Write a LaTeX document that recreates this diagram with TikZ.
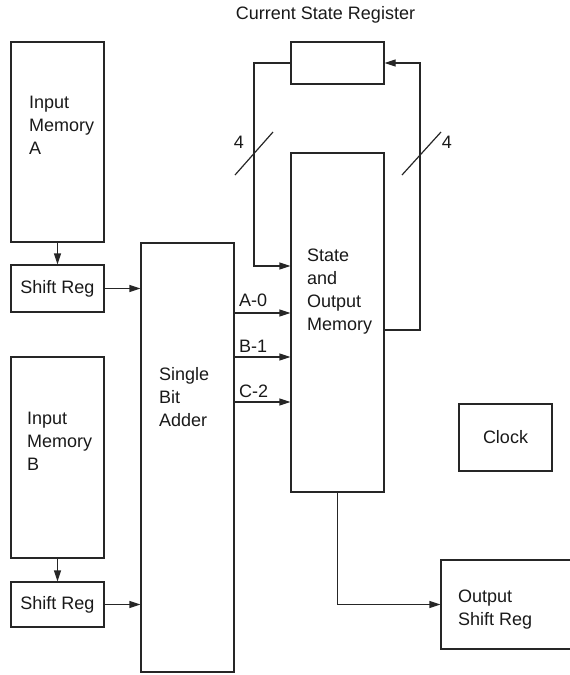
\documentclass[tikz,border=0pt]{standalone}
\usepackage{fontspec}
\setmainfont{Liberation Sans}
\usetikzlibrary{arrows.meta,calc}
\begin{document}
\begin{tikzpicture}[x=1pt,y=-1pt,
  box/.style={draw=black!85,line width=1.2pt,inner sep=0pt,minimum width=93pt},
  txt/.style={inner sep=0pt,align=left,font=\fontsize{18}{23}\selectfont,text=black!90},
  arr/.style={draw=black!85,line width=1.2pt,-{Triangle[length=11pt,width=7pt]}},
  ln/.style={draw=black!85,line width=1.2pt}]
\useasboundingbox (0,0) rectangle (570,675);
% boxes
\node[box,minimum height=200pt] (memA) at (57.5,142) {};
\node[box,minimum height=47pt] (srA) at (57.5,288.5) {};
\node[box,minimum height=201pt] (memB) at (57.5,457.5) {};
\node[box,minimum height=45pt] (srB) at (57.5,604.5) {};
\node[box,minimum height=429pt] (adder) at (187.5,457.5) {};
\node[box,minimum height=339pt] (som) at (337.5,322.5) {};
\node[box,minimum height=42pt] (csr) at (337.5,63) {};
\node[box,minimum height=67pt] (clock) at (505.5,437.5) {};
\node[box,minimum width=135pt,minimum height=89pt] (osr) at (508.5,604.5) {};
% texts
\node[txt,anchor=west] (tA) at (29,125) {Input\\Memory\\A};
\node[txt,anchor=west] (tB) at (27,441) {Input\\Memory\\B};
\node[txt] (tsrA) at (srA) {Shift Reg};
\node[txt] (tsrB) at (srB) {Shift Reg};
\node[txt,anchor=west] (tadd) at (159,397) {Single\\Bit\\Adder};
\node[txt,anchor=west] (tsom) at (307,292) {State\\and\\Output\\Memory};
\node[txt] (tclk) at (clock) {Clock};
\node[txt,anchor=west] (tosr) at (458,610) {Output\\Shift Reg};
\node[txt] (tcsr) at (325.5,15) {Current State Register};
% connectors
\draw[arr] (memA.south) -- (srA.north);
\draw[arr] (memB.south) -- (srB.north);
\draw[arr] (srA.east) -- (srA.east -| adder.west);
\draw[arr] (srB.east) -- (srB.east -| adder.west);
\coordinate (a0) at (0,313);
\coordinate (b1) at (0,357);
\coordinate (c2) at (0,402);
\draw[arr] (adder.east |- a0) -- (som.west |- a0);
\draw[arr] (adder.east |- b1) -- (som.west |- b1);
\draw[arr] (adder.east |- c2) -- (som.west |- c2);
\node[txt,anchor=base west] (la0) at (239,306) {A-0};
\node[txt,anchor=base west] (lb1) at (239,352) {B-1};
\node[txt,anchor=base west] (lc2) at (239,397) {C-2};
\coordinate (lf) at (254,266);
\draw[arr] (csr.west) -| (lf) -- (som.west |- lf);
\coordinate (rf) at (420,330);
\draw[arr] (som.east |- rf) -- (rf) |- (csr.east);
\draw[arr] (som.south) |- (osr.west);
% bus slashes
\coordinate (s1a) at (235,175); \coordinate (s1b) at (273,132);
\coordinate (s2a) at (402,175); \coordinate (s2b) at (441,132);
\draw[ln] (s1a) -- (s1b);
\draw[ln] (s2a) -- (s2b);
\node[txt] (n4a) at (239,142) {4};
\node[txt] (n4b) at (447,142) {4};
\end{tikzpicture}
\end{document}
